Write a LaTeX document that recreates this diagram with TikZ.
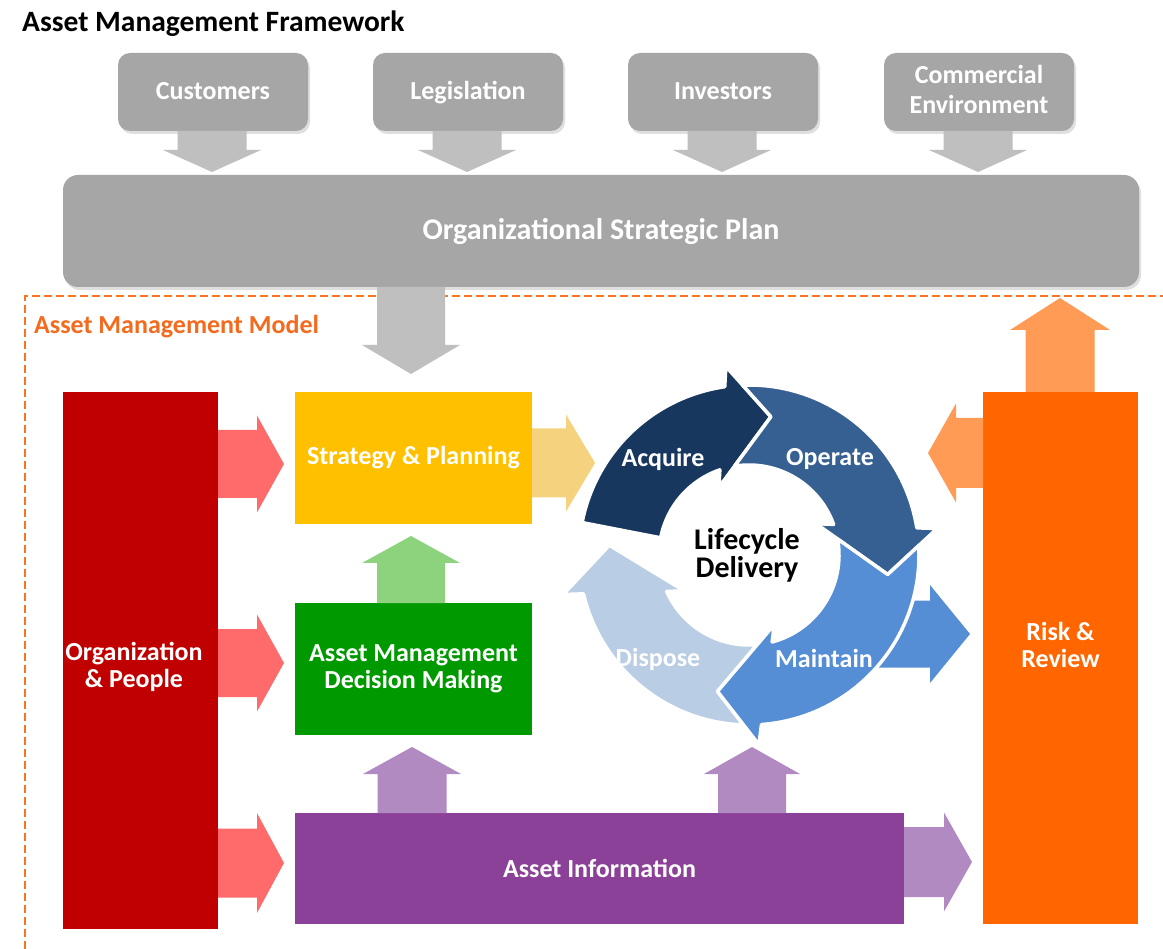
\documentclass[tikz,border=0pt]{standalone}
\usepackage{fontspec}
\setmainfont{Carlito}
\usetikzlibrary{calc,shadows}
\definecolor{boxgray}{HTML}{A6A6A6}
\definecolor{arrgray}{HTML}{BFBFBF}
\definecolor{dashor}{HTML}{F7751F}
\definecolor{modelor}{HTML}{F26B1F}
\definecolor{orgred}{HTML}{C00000}
\definecolor{redarr}{HTML}{FF6B6B}
\definecolor{stratyel}{HTML}{FFC000}
\definecolor{yelarr}{HTML}{F5D27D}
\definecolor{decgreen}{HTML}{009900}
\definecolor{grnarr}{HTML}{8DD37E}
\definecolor{infopur}{HTML}{8B4197}
\definecolor{purarr}{HTML}{B18AC1}
\definecolor{riskor}{HTML}{FF6600}
\definecolor{orarr}{HTML}{FF9B55}
\definecolor{acq}{HTML}{17375E}
\definecolor{ope}{HTML}{366092}
\definecolor{mnt}{HTML}{558ED5}
\definecolor{dsp}{HTML}{B9CDE5}
% block arrows: #1 colour, #2 start, #3 tip, #4 shaft half width, #5 head half width, #6 head length
\newcommand\arrR[6]{\fill[#1] ($#2+(0,-#4)$) -- ($#3+(-#6,-#4)$) -- ($#3+(-#6,-#5)$) -- #3 -- ($#3+(-#6,#5)$) -- ($#3+(-#6,#4)$) -- ($#2+(0,#4)$) -- cycle;}
\newcommand\arrL[6]{\fill[#1] ($#2+(0,-#4)$) -- ($#3+(#6,-#4)$) -- ($#3+(#6,-#5)$) -- #3 -- ($#3+(#6,#5)$) -- ($#3+(#6,#4)$) -- ($#2+(0,#4)$) -- cycle;}
\newcommand\arrU[6]{\fill[#1] ($#2+(-#4,0)$) -- ($#3+(-#4,#6)$) -- ($#3+(-#5,#6)$) -- #3 -- ($#3+(#5,#6)$) -- ($#3+(#4,#6)$) -- ($#2+(#4,0)$) -- cycle;}
\newcommand\arrD[6]{\fill[#1] ($#2+(-#4,0)$) -- ($#3+(-#4,-#6)$) -- ($#3+(-#5,-#6)$) -- #3 -- ($#3+(#5,-#6)$) -- ($#3+(#4,-#6)$) -- ($#2+(#4,0)$) -- cycle;}
\begin{document}
\begin{tikzpicture}[x=1pt,y=-1pt,
  boxtxt/.style={text=white, font=\fontsize{26}{27}\selectfont\bfseries, align=center, inner sep=0pt},
  topbox/.style={boxtxt, fill=boxgray, rounded corners=12pt, minimum width=190pt, minimum height=78pt,
     drop shadow={opacity=0.25, shadow xshift=2pt, shadow yshift=-3pt}},
  onebase/.style={text height=18pt, text depth=2pt},
  block/.style={boxtxt, inner sep=0pt},
  cyc/.style={draw=white, line width=3.5pt, line join=round},
  cyctxt/.style={text=white, font=\fontsize{26}{27}\selectfont\bfseries, inner sep=0pt}]
\useasboundingbox (0,0) rectangle (1163,949);
\fill[white] (0,0) rectangle (1163,949);

% title
\node[anchor=base west, inner sep=0pt, font=\fontsize{29.5}{30}\selectfont\bfseries] (title) at (22,32) {Asset Management Framework};

% top boxes
\node[topbox, onebase] (cust) at (213,92) {Customers};
\node[topbox, onebase] (legi) at (468,92) {Legislation};
\node[topbox, onebase] (inve) at (723,92) {Investors};
\node[topbox] (comm) at (979,92) {};
\node[boxtxt, font=\fontsize{26}{29.5}\selectfont\bfseries] (commt) at (979,89.5) {Commercial\\Environment};

% strategic plan
\node[boxtxt, fill=boxgray, rounded corners=15pt, minimum width=1076pt, minimum height=112pt,
  font=\fontsize{30}{30}\selectfont\bfseries,
  drop shadow={opacity=0.25, shadow xshift=2pt, shadow yshift=-3pt}] (plan) at (601,231) {Organizational Strategic Plan};

% arrows into plan
\foreach \n/\x in {cust/212, legi/467, inve/722, comm/978}{
  \coordinate (\n s) at (\x,131);
  \coordinate (\n e) at (\x,172);
  \arrD{arrgray}{(\n s)}{(\n e)}{34.5}{49}{22}
}

% model frame
\draw[dashor, line width=2pt, dash pattern=on 8pt off 4pt] (25,949) -- (25,296) -- (1163,296);
\node[anchor=west, inner sep=0pt, text=modelor, font=\fontsize{26}{27}\selectfont\bfseries] (model) at (34,327) {Asset Management Model};

% boxes
\node[block, fill=orgred, minimum width=155pt, minimum height=537pt] (org) at (140.5,660.5) {};
\node[boxtxt] (orgt) at (134,667) {Organization\\\& People};
\node[block, fill=stratyel, minimum width=237pt, minimum height=132pt] (strat) at (413.5,458) {Strategy \& Planning};
\node[block, fill=decgreen, minimum width=237pt, minimum height=132pt] (dec) at (413.5,669) {Asset Management\\Decision Making};
\node[block, fill=infopur, minimum width=609pt, minimum height=111pt] (info) at (599.5,868.5) {Asset Information};
\node[block, fill=riskor, minimum width=155pt, minimum height=532pt] (risk) at (1060.5,658) {};
\node[boxtxt] (riskt) at (1060.5,645) {Risk \&\\Review};

% arrows
\coordinate (gds) at (411,287); \coordinate (gde) at (411,374);
\arrD{arrgray}{(gds)}{(gde)}{34}{49}{29}
\coordinate (r1s) at (218,464); \coordinate (r1e) at (284,464);
\arrR{redarr}{(r1s)}{(r1e)}{34}{48.5}{27}
\coordinate (r2s) at (218,663); \coordinate (r2e) at (284,663);
\arrR{redarr}{(r2s)}{(r2e)}{34}{48.5}{27}
\coordinate (r3s) at (218,863); \coordinate (r3e) at (284,863);
\arrR{redarr}{(r3s)}{(r3e)}{34.5}{50}{27}
\coordinate (ys) at (532,463); \coordinate (ye) at (595,463);
\arrR{yelarr}{(ys)}{(ye)}{34.5}{48.5}{29}
\coordinate (gus) at (411,603); \coordinate (gue) at (411,536);
\arrU{grnarr}{(gus)}{(gue)}{34}{49}{27}
\coordinate (p1s) at (412,813); \coordinate (p1e) at (412,747);
\arrU{purarr}{(p1s)}{(p1e)}{34.5}{49}{27}
\coordinate (p2s) at (752,813); \coordinate (p2e) at (752,747);
\arrU{purarr}{(p2s)}{(p2e)}{34}{48}{27}
\coordinate (p3s) at (904,862); \coordinate (p3e) at (972,862);
\arrR{purarr}{(p3s)}{(p3e)}{35}{49.5}{28}
\coordinate (ols) at (983,453); \coordinate (ole) at (928,453);
\arrL{orarr}{(ols)}{(ole)}{35}{49.5}{28}
\coordinate (ous) at (1060,392); \coordinate (oue) at (1060,298);
\arrU{orarr}{(ous)}{(oue)}{34.5}{50}{32}
\coordinate (bs) at (860,634); \coordinate (be) at (970,634);
\arrR{mnt}{(bs)}{(be)}{33.5}{49}{40}

% lifecycle ring
\begin{scope}[shift={(749,555)}]
\filldraw[cyc, fill=dsp] (-91.85:170pt) arc[start angle=-91.85, end angle=-166.8, radius=170pt]
  -- (-168:190pt) -- (-184:140pt) -- (-151:74pt) -- (-156.1:90pt)
  arc[start angle=-156.1, end angle=-84.73, radius=90pt] -- (-103:140pt) -- cycle;
\filldraw[cyc, fill=acq] (169:170pt) arc[start angle=169, end angle=98.2, radius=170pt]
  -- (97:190pt) -- (81:140pt) -- (114:74pt) -- (108.9:90pt)
  arc[start angle=108.9, end angle=169, radius=90pt] -- cycle;
\filldraw[cyc, fill=ope] (92.15:170pt) arc[start angle=92.15, end angle=9.2, radius=170pt]
  -- (8:190pt) -- (-8:140pt) -- (25:74pt) -- (19.9:90pt)
  arc[start angle=19.9, end angle=99.27, radius=90pt] -- (81:140pt) -- cycle;
\filldraw[cyc, fill=mnt] (3.15:170pt) arc[start angle=3.15, end angle=-85.8, radius=170pt]
  -- (-87:190pt) -- (-103:140pt) -- (-70:74pt) -- (-75.1:90pt)
  arc[start angle=-75.1, end angle=10.27, radius=90pt] -- (-8:140pt) -- cycle;
\end{scope}
\node[cyctxt] (lacq) at (663,459) {Acquire};
\node[cyctxt] (lope) at (830,459) {Operate};
\node[cyctxt] (lmnt) at (824,658) {Maintain};
\node[cyctxt] (ldsp) at (658,659) {Dispose};
\node[inner sep=0pt, align=center, font=\fontsize{30}{28}\selectfont\bfseries] (life) at (747,555) {Lifecycle\\Delivery};
\end{tikzpicture}
\end{document}
